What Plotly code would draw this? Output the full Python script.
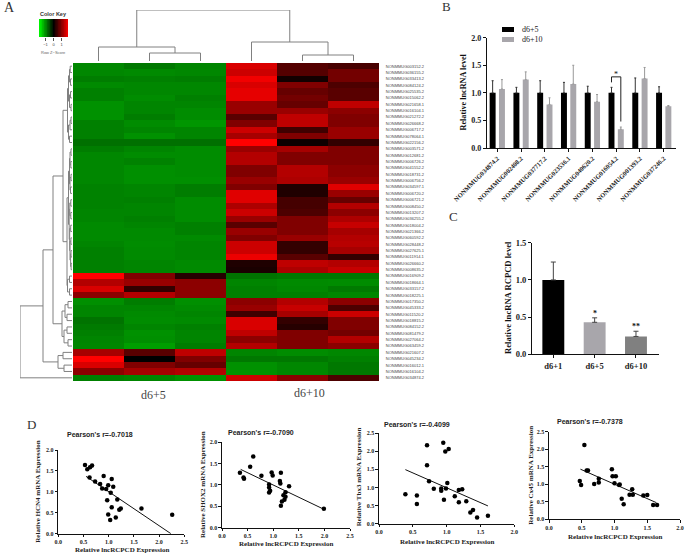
import numpy as np
import plotly.graph_objects as go

W, H = 685, 554
SERIF = "Liberation Serif"
SANS = "Liberation Sans"

# ---- Panel A data: scaled row z-scores (-1 full green, +1 full red)
heat_d6_5 = [
 [-.53,-.47,-.52],[-.53,-.54,-.53],[-.49,-.50,-.49],[-.54,-.53,-.53],[-.50,-.53,-.53],
 [-.50,-.55,-.50],[-.57,-.52,-.52],[-.57,-.52,-.55],[-.57,-.49,-.55],[-.50,-.55,-.59],
 [-.50,-.52,-.52],[-.50,-.57,-.52],[-.44,-.44,-.44],[-.49,-.52,-.55],[-.53,-.55,-.55],
 [-.53,-.51,-.55],[-.53,-.56,-.55],[-.53,-.56,-.55],[-.53,-.56,-.56],[-.51,-.52,-.49],
 [-.51,-.52,-.49],[-.51,-.50,-.55],[-.51,-.52,-.55],[-.52,-.52,-.55],[-.52,-.50,-.55],
 [-.54,-.52,-.50],[-.54,-.54,-.50],[-.54,-.54,-.54],[-.52,-.55,-.52],[-.50,-.54,-.52],
 [-.50,-.54,-.52],[-.50,-.52,-.54],[-.50,-.52,-.54],
 [1.0,.50,.15],[.70,.60,.55],[.85,.20,.55],[.55,.70,.55],
 [-.56,-.49,-.56],[-.52,-.52,-.54],[-.52,-.54,-.52],[-.45,-.55,-.54],[-.48,-.52,-.50],
 [-.50,-.57,-.52],[-.52,-.56,-.52],[-.53,-.62,-.49],
 [.65,.35,.75],[1.0,.0,.50],[.85,.50,.40],[.55,.65,.70],
 [-.50,-.52,-.57]]
heat_d6_10 = [
 [.85,.33,.28],[.80,.33,.45],[.95,.07,.45],[.85,.50,.30],[.90,.40,.35],
 [.90,.45,.35],[.60,.40,.75],[.60,.60,.55],[.35,.75,.50],[.50,.75,.50],
 [.80,.25,.60],[.65,.50,.60],[1.0,.05,.20],[.60,.65,.50],[.70,.50,.50],
 [.70,.50,.50],[.50,.70,.55],[.50,.70,.55],[.60,.68,.60],[.50,.12,.88],
 [.88,.12,.60],[.88,.27,.40],[.68,.27,.70],[.80,.30,.55],[.60,.50,.68],
 [.35,.50,.78],[.60,.50,.65],[.50,.60,.70],[.80,.20,.72],[.80,.20,.65],
 [.93,.35,.20],[.12,.75,.70],[.10,.68,.78],
 [-.45,-.47,-.47],[-.52,-.54,-.55],[-.50,-.53,-.48],[-.50,-.50,-.53],
 [.55,.70,.55],[.60,.78,.30],[.25,.65,.80],[.85,.20,.50],[.85,.15,.50],
 [.75,.50,.45],[.55,.50,.70],[.70,.50,.55],
 [-.52,-.55,-.53],[-.47,-.47,-.50],[-.57,-.53,-.47],[-.57,-.53,-.47],
 [.80,.55,.30]]
row_labels = """003152.2 036155.2 033413.2 084124.2 025535.2 015062.2 021658.1 016104.1 021272.2 026668.2
006717.2 078064.1 022156.2 003571.2 012681.2 006726.2 041552.2 018731.2 006756.2 034597.1
006720.2 006721.2 008450.2 013207.2 036255.2 018004.2 021366.2 060592.2 028448.2 027625.1
011914.1 026660.2 008635.2 016909.2 018664.1 033157.2 018225.1 017350.2 045333.2 011520.2
018815.2 084152.2 081479.2 027064.2 063459.2 021607.2 045234.2 016012.1 016104.2 034874.2""".split()
row_labels = ["NONMMUG" + s for s in row_labels]

# dendrograms: (height, child, child); integer = 1-based leaf
col_tree = (51, (14, 1, (8, 2, 3)), (19, 4, (6, 5, 6)))
tree_top13 = (4.5, (3.5, (2.5, (1.8, 1, 2), (1.5, 3, 4)), (2.5, (1.5, 5, 6), (1, 7, 8))),
              (3.5, (2, (1, 9, 10), 11), (2.5, 12, 13)))
tree_mid20 = (3.5, (2.5, (2, (1, 14, 15), (1.2, 16, 17)), (2, (1, 18, 19), (1.5, 20, 21))),
              (2.8, (2.2, (1.2, 22, 23), (1.2, 24, 25)),
               (2.3, (1.3, 26, 27), (2, (1.1, 28, 29), (1.4, (1, 30, 31), (.9, 32, 33))))))
tree_r34 = (4.5, (2.5, 34, 35), (2.5, 36, 37))
tree_r38 = (10, (7, (4, 38, 39), (5, 40, 41)), (8, (5, 42, 43), (4, 44, 45)))
tree_r46 = (14, (9, 46, 47), (8, 48, 49))
row_tree = (52, (29, (19, (9, tree_top13, (5, tree_mid20, tree_r34)), tree_r38), tree_r46), 50)

# ---- Panel B
b_genes = ["NONMMUG034874.2","NONMMUG002408.2","NONMMUG037717.2","NONMMUG023536.1",
           "NONMMUG040620.2","NONMMUG016054.2","NONMMUG001393.2","NONMMUG037246.2"]
b_d5 = [1, 1, 1, 1, 1, 1, 1, 1]
b_d5_err = [.22, .10, .22, .19, .12, .10, .27, .11]
b_d10 = [1.07, 1.24, .79, 1.16, .84, .34, 1.26, .755]
b_d10_err = [.17, .14, .12, .34, .13, .04, .20, .015]

# ---- Panel C
c_labels = ["d6+1", "d6+5", "d6+10"]
c_vals = [1.0, .43, .24]
c_err = [.24, .06, .07]
c_colors = ["#000000", "#a8a6ab", "#808080"]
c_stars = ["", "*", "**"]

# ---- Panel D
d1_x = [.53,.575,.63,.67,.62,.73,.83,.90,.87,.95,.99,1.06,1.09,1.04,.97,1.17,1.06,.99,1.03,1.14,1.21,1.24,1.65,2.26]
d1_y = [1.64,1.54,1.59,1.63,1.34,1.25,1.19,1.38,1.08,1.07,1.16,1.31,1.12,.98,.80,.82,.63,.46,.33,.39,.57,.60,.60,.45]
d1_fit = ([.55, 2.235], [1.37, 0.0])
d2_x = [.35,.42,.43,.55,.61,.77,.97,.99,.92,.92,.94,.92,1.13,1.14,1.15,1.31,1.24,1.20,1.24,1.22,1.17,1.15,1.99]
d2_y = [1.28,1.17,1.14,1.42,1.66,1.21,1.29,1.22,1.01,.94,.86,.82,1.09,1.03,1.28,.97,.83,.76,.72,.65,.61,.51,.44]
d2_fit = ([.365, 1.99], [1.36, .43])
d3_x = [.39,.56,.56,.71,.71,.74,.81,.92,.92,.95,.96,.98,.99,1.01,1.03,1.12,1.18,1.18,1.23,1.29,1.35,1.39,1.45,1.61]
d3_y = [.81,.78,.54,2.16,1.61,1.17,.96,.97,.91,2.23,.66,1.99,.97,1.12,2.06,.76,.93,.59,.95,.62,.31,.38,.17,.22]
d3_fit = ([.39, 1.61], [1.49, .49])
d4_x = [.47,.49,.54,.575,.595,.69,.76,.76,.96,.97,1.02,1.0,1.07,1.08,1.11,1.14,1.23,1.28,1.27,1.44,1.50,1.59,1.65]
d4_y = [1.09,.98,2.12,1.39,1.39,1.01,1.16,1.05,1.43,1.23,1.23,1.03,.98,.99,.59,.43,.70,.70,.86,.68,.69,.41,.41]
d4_fit = ([.48, 1.64], [1.43, .475])

fig = go.Figure()
layout = dict(template="none", width=W, height=H, margin=dict(l=0, r=0, t=0, b=0, pad=0), autosize=False,
              paper_bgcolor="white", plot_bgcolor="rgba(0,0,0,0)", showlegend=False,
              barmode="overlay", font=dict(family=SERIF, color="#111"))
annots, shapes = [], []
n_axes = [0]


def new_axes(left, right, top, bottom, xkw, ykw):
    n_axes[0] += 1
    n = n_axes[0]
    s = "" if n == 1 else str(n)
    layout["xaxis" + s] = dict(domain=[left / W, right / W], anchor="y" + s, showgrid=False,
                               zeroline=False, automargin=False, **xkw)
    layout["yaxis" + s] = dict(domain=[1 - bottom / H, 1 - top / H], anchor="x" + s, showgrid=False,
                               zeroline=False, automargin=False, **ykw)
    return "x" + s, "y" + s


def text(x, y, t, size, family=SERIF, bold=False, color="#111", angle=0, anchor="center"):
    annots.append(dict(x=x / W, y=1 - y / H, xref="paper", yref="paper", text=t, showarrow=False,
                       xanchor=anchor, yanchor="middle", textangle=angle,
                       font=dict(family=family, size=size, color=color, weight=700 if bold else 400)))


def tree_segments(node, xs, ys):
    """returns (leaf position, height); xs=position, ys=height"""
    if isinstance(node, int):
        return node - .5, 0
    h, a, b = node
    pa, ha = tree_segments(a, xs, ys)
    pb, hb = tree_segments(b, xs, ys)
    xs += [pa, pa, pb, pb, None]
    ys += [ha, h, h, hb, None]
    return (pa + pb) / 2, h


hidden = dict(visible=False)
DG = "#808080"

# heatmap
z = np.hstack([np.array(heat_d6_5), np.array(heat_d6_10)])
cs = [[0, "#00ff00"], [.5, "#000000"], [1, "#ff0000"]]
rows = [i + .5 for i in range(len(row_labels))]
xa, ya = new_axes(73, 379, 63, 381, dict(range=[0, 6], visible=False),
                  dict(range=[50, 0], side="right", tickmode="array", tickvals=rows, ticktext=row_labels,
                       ticks="outside", ticklen=5, tickcolor="white", tickwidth=.1,
                       tickfont=dict(family=SANS, size=4, color="#444"), showline=False))
fig.add_trace(go.Heatmap(z=z, x=[i + .5 for i in range(6)], y=rows, colorscale=cs, zmin=-1, zmax=1,
                         showscale=False, xaxis=xa, yaxis=ya))

# column dendrogram
xs, ys = [], []
tree_segments(col_tree, xs, ys)
xa, ya = new_axes(73, 379, 10, 61, dict(range=[0, 6], **hidden), dict(range=[0, 51], **hidden))
fig.add_trace(go.Scatter(x=xs, y=ys, mode="lines", line=dict(color=DG, width=1), cliponaxis=False,
                         xaxis=xa, yaxis=ya))
# row dendrogram
xs, ys = [], []
tree_segments(row_tree, xs, ys)
xa, ya = new_axes(20, 72, 63, 381, dict(range=[52, 0], **hidden), dict(range=[50, 0], **hidden))
fig.add_trace(go.Scatter(x=ys, y=xs, mode="lines", line=dict(color=DG, width=1), cliponaxis=False,
                         xaxis=xa, yaxis=ya))

# colour key
key_levels = np.linspace(-1, 1, 41)
xa, ya = new_axes(39, 68, 19, 37,
                  dict(range=[-1, 1], tickmode="array", tickvals=[-1 / 1.8, 0, 1 / 1.8], ticktext=["\u22121", "0", "1"],
                       ticks="outside", ticklen=3, tickwidth=.6, tickcolor="#555",
                       tickfont=dict(family=SANS, size=4, color="#444")),
                  dict(range=[0, 1], **hidden))
fig.add_trace(go.Heatmap(z=[list(key_levels)], x=list(key_levels), y=[.5], colorscale=cs, zmin=-1, zmax=1,
                         showscale=False, xaxis=xa, yaxis=ya))
text(53, 14, "Color Key", 5.5, SANS, True, color="#333")
text(53, 52, "Row Z\u2212Score", 4, SANS, color="#666")
text(153, 395, "d6+5", 12, SERIF, color="#444")
text(309, 393, "d6+10", 12, SERIF, color="#444")
text(9, 8, "A", 14, SERIF, color="#333")
text(447, 7, "B", 13, SERIF, color="#333")
text(453, 216, "C", 13, SERIF, color="#333")
text(31, 424, "D", 13, SERIF, color="#333")


def ax_style(size=6.5, **kw):
    d = dict(showline=True, linecolor="#111", linewidth=1.1, ticks="outside", ticklen=3, tickwidth=1,
             tickcolor="#111", tickfont=dict(family=SERIF, size=size, color="#222", weight=700))
    d.update(kw)
    return d


# Panel B
xpos = list(range(8))
xa, ya = new_axes(487, 676, 37.7, 148,
                  ax_style(6.5, range=[-.433, 7.517], tickmode="array", tickvals=xpos, ticktext=b_genes, tickangle=-45),
                  ax_style(8, range=[0, 2], tickmode="array", tickvals=[0, .5, 1, 1.5, 2], tickformat=".1f"))
for vals, err, col, off, ecol in [(b_d5, b_d5_err, "#000000", -.196, "#333333"),
                                  (b_d10, b_d10_err, "#a8a6ab", .196, "#999999")]:
    fig.add_trace(go.Bar(x=xpos, y=vals, width=.25, offset=off - .125, marker=dict(color=col, line=dict(width=0)),
                         error_y=dict(type="data", array=err, arrayminus=[0] * 8, symmetric=False, color=ecol,
                                      thickness=1, width=1),
                         xaxis=xa, yaxis=ya))
fig.add_trace(go.Scatter(x=[5 - .196, 5 - .196, 5 + .196, 5 + .196], y=[1.19, 1.29, 1.29, .48], mode="lines",
                         line=dict(color="#222", width=1), xaxis=xa, yaxis=ya))
annots.append(dict(x=5, y=1.34, xref=xa, yref=ya, text="*", showarrow=False, yanchor="middle",
                   font=dict(family=SERIF, size=8, color="#111")))
for top, bottom, col, label in [(27, 32, "#000000", "d6+5"), (37, 42, "#a8a6ab", "d6+10")]:
    shapes.append(dict(type="rect", xref="paper", yref="paper", x0=502 / W, x1=514 / W, y0=1 - bottom / H,
                       y1=1 - top / H, fillcolor=col, line=dict(width=0)))
    text(520, (top + bottom) / 2, label, 8, SERIF, anchor="left", color="#222")
text(463, 92.5, "Relative lncRNA level", 8.2, SERIF, True, angle=-90)

# Panel C
xa, ya = new_axes(532, 659, 242.7, 354.3,
                  ax_style(8.5, range=[-.516, 2.557], tickmode="array", tickvals=[0, 1, 2], ticktext=c_labels),
                  ax_style(8.5, range=[0, 1.5], tickmode="array", tickvals=[0, .5, 1, 1.5], tickformat=".1f"))
fig.add_trace(go.Bar(x=[0, 1, 2], y=c_vals, width=.53, marker=dict(color=c_colors, line=dict(width=0)),
                     error_y=dict(type="data", array=c_err, arrayminus=[0, 0, 0], symmetric=False, color="#444",
                                  thickness=1, width=2.5),
                     xaxis=xa, yaxis=ya))
for i, st in enumerate(c_stars):
    if st:
        annots.append(dict(x=i, y=c_vals[i] + c_err[i], xref=xa, yref=ya, text=st, showarrow=False,
                           yanchor="bottom", yshift=-2, font=dict(family=SERIF, size=8, color="#111", weight=700)))
text(508, 298, "Relative lncRNA RCPCD level", 8.6, SERIF, True, angle=-90)

# Panel D
panels = [
    (58.3, 184.3, 450, 533.7, 2.5, 2.0, d1_x, d1_y, d1_fit, "Pearson's r=-0.7018", (100, 434), (121.7, 550),
     (38, 491.7), "Relative HCN4 mRNA Expression"),
    (222, 350, 442, 527.7, 2.5, 2.0, d2_x, d2_y, d2_fit, "Pearson's r=-0.7090", (261, 432), (285.7, 544),
     (203, 485), "Relative SHOX2 mRNA Expression"),
    (379, 514.3, 433, 523.7, 2.0, 2.5, d3_x, d3_y, d3_fit, "Pearson's r=-0.4099", (416.7, 424), (446.7, 541.7),
     (359.3, 477), "Relative Tbx3 mRNA Expression"),
    (549, 680, 431.7, 519.3, 2.0, 2.5, d4_x, d4_y, d4_fit, "Pearson's r=-0.7378", (590, 421), (615, 536.7),
     (530.7, 475), "Relative Cx45 mRNA Expression"),
]
for l, r, t, b, xmax, ymax, px, py, fit, title, tp, xp, yp, ylab in panels:
    xa, ya = new_axes(l, r, t, b,
                      ax_style(6, range=[0, xmax], tick0=0, dtick=.5, tickformat=".1f", ticklen=2.5),
                      ax_style(6, range=[0, ymax], tick0=0, dtick=.5, tickformat=".1f", ticklen=2.5))
    fig.add_trace(go.Scatter(x=list(fit[0]), y=list(fit[1]), mode="lines", line=dict(color="#111", width=1),
                             xaxis=xa, yaxis=ya))
    fig.add_trace(go.Scatter(x=px, y=py, mode="markers", marker=dict(color="#000", size=4.5), cliponaxis=False,
                             xaxis=xa, yaxis=ya))
    text(tp[0], tp[1], title, 7, SANS, True, color="#222")
    text(xp[0], xp[1], "Relative lncRCPCD Expression", 7, SERIF, True, color="#222")
    text(yp[0], yp[1], ylab, 7, SERIF, True, color="#222", angle=-90)

fig.update_layout(**layout, annotations=annots, shapes=shapes)
fig.write_html("out.html", config={"displayModeBar": False},
               post_script="document.body.style.margin='0';document.body.style.overflow='hidden';")
